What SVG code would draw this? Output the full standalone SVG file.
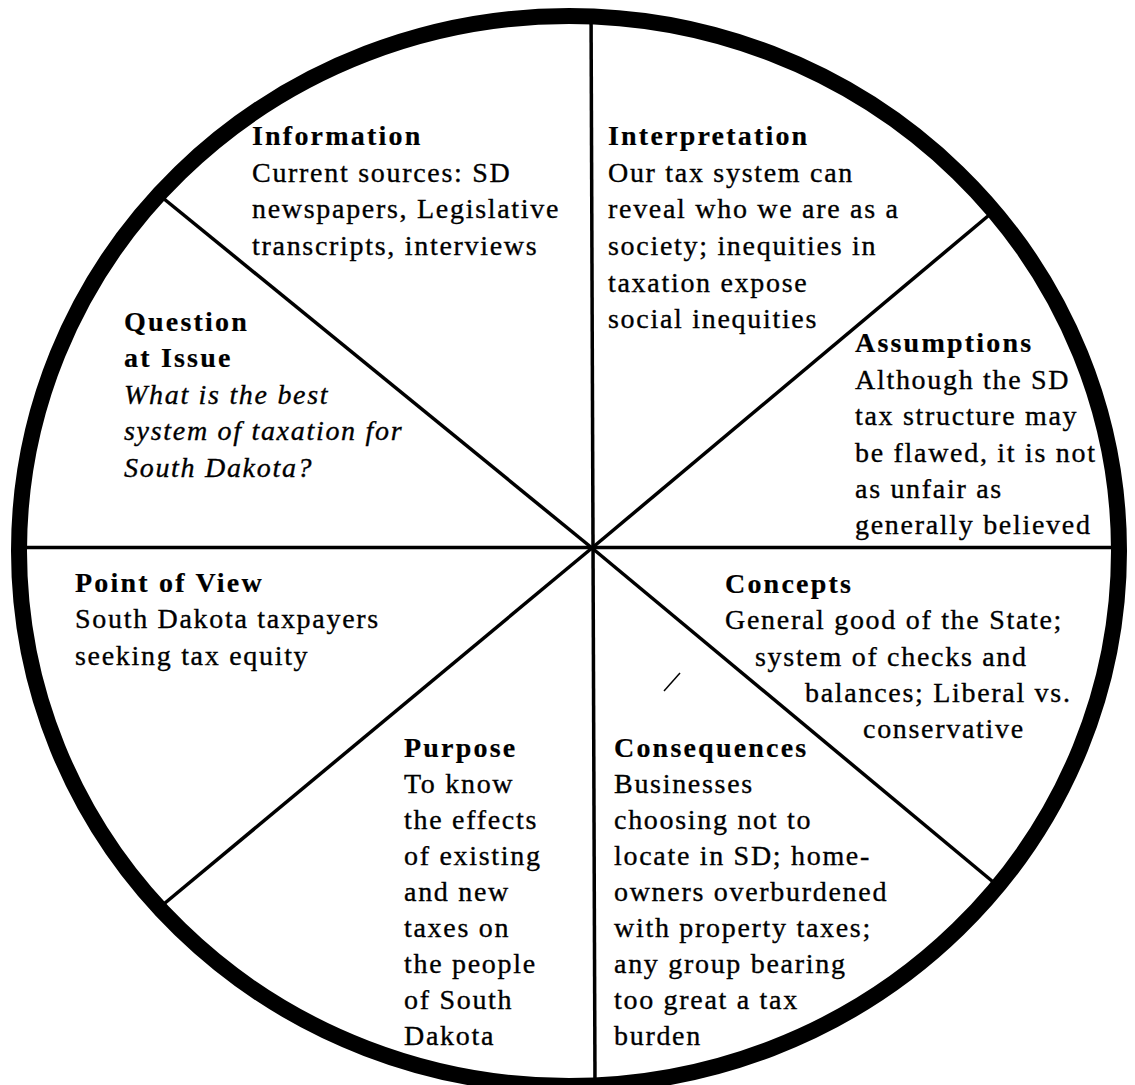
<svg xmlns="http://www.w3.org/2000/svg" width="1135" height="1085" viewBox="0 0 1135 1085">
<style>
text { font-family: "Liberation Serif", "Times New Roman", serif; font-size: 28px; fill: #000; stroke: #000; stroke-width: 0.35px; letter-spacing: 1.7px; }
.h { font-weight: bold; letter-spacing: 2.2px; stroke-width: 0.2px; }
.i { font-style: italic; }
.ln { stroke: #000; stroke-width: 3.5; fill: none; stroke-linecap: butt; }
</style>
<rect width="1135" height="1085" fill="#fff"/>
<g id="connectors">
<line class="ln" x1="0" y1="547.5" x2="1135" y2="547.5"/>
<line class="ln" x1="591" y1="0" x2="595" y2="1085"/>
<line class="ln" x1="592" y1="548" x2="158" y2="194"/>
<line class="ln" x1="592" y1="548" x2="994" y2="211"/>
<line class="ln" x1="592" y1="548" x2="159" y2="908"/>
<line class="ln" x1="592" y1="548" x2="998" y2="886"/>
<line stroke="#000" stroke-width="1.5" x1="664" y1="691" x2="680" y2="673"/>
</g>
<g id="wheel">
<path fill="#fff" fill-rule="evenodd" d="M0 0H1135V1085H0Z M19 551 A550 535 0 1 0 1119 551 A550 535 0 1 0 19 551Z"/>
<ellipse cx="569" cy="551" rx="550" ry="535" fill="none" stroke="#000" stroke-width="16"/>
</g>
<g id="information">
<text class="h" x="252" y="145">Information</text>
<text x="252" y="182">Current sources: SD</text>
<text x="252" y="218">newspapers, Legislative</text>
<text x="252" y="255">transcripts, interviews</text>
</g>
<g id="interpretation">
<text class="h" x="608" y="145">Interpretation</text>
<text x="608" y="182">Our tax system can</text>
<text x="608" y="218">reveal who we are as a</text>
<text x="608" y="255">society; inequities in</text>
<text x="608" y="292">taxation expose</text>
<text x="608" y="328">social inequities</text>
</g>
<g id="assumptions">
<text class="h" x="855" y="352">Assumptions</text>
<text x="855" y="389">Although the SD</text>
<text x="855" y="425">tax structure may</text>
<text x="855" y="462">be flawed, it is not</text>
<text x="855" y="498">as unfair as</text>
<text x="855" y="534">generally believed</text>
</g>
<g id="question">
<text class="h" x="124" y="331">Question</text>
<text class="h" x="124" y="367">at Issue</text>
<text class="i" x="124" y="404">What is the best</text>
<text class="i" x="124" y="440">system of taxation for</text>
<text class="i" x="124" y="477">South Dakota?</text>
</g>
<g id="point-of-view">
<text class="h" x="75" y="592">Point of View</text>
<text x="75" y="628">South Dakota taxpayers</text>
<text x="75" y="665">seeking tax equity</text>
</g>
<g id="concepts">
<text class="h" x="725" y="593">Concepts</text>
<text x="725" y="629">General good of the State;</text>
<text x="755" y="666">system of checks and</text>
<text x="805" y="702">balances; Liberal vs.</text>
<text x="863" y="738">conservative</text>
</g>
<g id="purpose">
<text class="h" x="404" y="757">Purpose</text>
<text x="404" y="793">To know</text>
<text x="404" y="829">the effects</text>
<text x="404" y="865">of existing</text>
<text x="404" y="901">and new</text>
<text x="404" y="937">taxes on</text>
<text x="404" y="973">the people</text>
<text x="404" y="1009">of South</text>
<text x="404" y="1045">Dakota</text>
</g>
<g id="consequences">
<text class="h" x="614" y="757">Consequences</text>
<text x="614" y="793">Businesses</text>
<text x="614" y="829">choosing not to</text>
<text x="614" y="865">locate in SD; home-</text>
<text x="614" y="901">owners overburdened</text>
<text x="614" y="937">with property taxes;</text>
<text x="614" y="973">any group bearing</text>
<text x="614" y="1009">too great a tax</text>
<text x="614" y="1045">burden</text>
</g>
</svg>
